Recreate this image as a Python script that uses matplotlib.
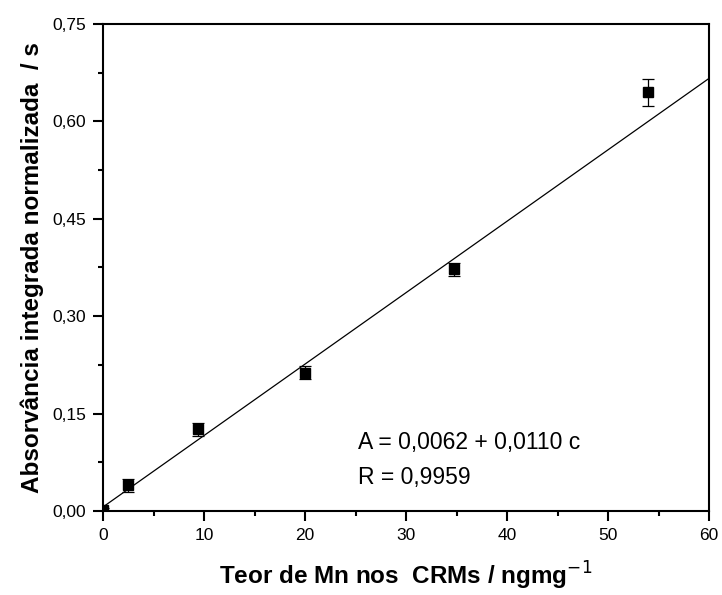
import matplotlib.pyplot as plt
import numpy as np
from matplotlib.ticker import MultipleLocator, FuncFormatter

plt.rcParams['font.family'] = ['Liberation Sans', 'DejaVu Sans']

# Mn content in CRMs and normalized integrated absorbance
teor = [0.0, 2.5, 9.4, 20.0, 34.8, 54.0]
absorv = [0.001, 0.040, 0.126, 0.213, 0.372, 0.645]
erro = [0.004, 0.010, 0.010, 0.010, 0.010, 0.021]

# calibration fit
a0 = 0.0062
a1 = 0.0110
r_val = 0.9959

fig = plt.figure(figsize=(7.22, 5.95), dpi=100)
ax = fig.add_axes([0.1427, 0.1412, 0.8393, 0.8185])

xs = np.array([0, 60])
ax.plot(xs, a0 + a1 * xs, color='black', lw=0.9)
ax.errorbar(teor, absorv, yerr=erro, fmt='s', color='black', ms=7.5,
            ecolor='black', elinewidth=0.9, capsize=4, capthick=0.9, clip_on=True)

ax.set_xlim(0, 60)
ax.set_ylim(0, 0.75)
ax.xaxis.set_major_locator(MultipleLocator(10))
ax.xaxis.set_minor_locator(MultipleLocator(5))
ax.yaxis.set_major_locator(MultipleLocator(0.15))
ax.yaxis.set_minor_locator(MultipleLocator(0.075))
ax.yaxis.set_major_formatter(FuncFormatter(lambda v, p: f'{v:.2f}'.replace('.', ',')))

ax.tick_params(which='both', direction='out', width=1.5, labelsize=12.5)
ax.tick_params(which='major', length=7.2, pad=5)
ax.tick_params(which='minor', length=3.6)
for s in ax.spines.values():
    s.set_linewidth(1.5)

ax.set_xlabel('Teor de Mn nos  CRMs / ngmg$^{-1}$', fontsize=17.5,
              fontweight='bold', labelpad=12)
ax.set_ylabel('Absorvância integrada normalizada  / s', fontsize=17.5,
              fontweight='bold', labelpad=6)

ax.text(0.421, 0.127, f'A = {a0:.4f} + {a1:.4f} c'.replace('.', ','),
        transform=ax.transAxes, fontsize=16.5, va='baseline')
ax.text(0.421, 0.055, f'R = {r_val:.4f}'.replace('.', ','),
        transform=ax.transAxes, fontsize=16.5, va='baseline')

fig.savefig('out.png', dpi=100)
